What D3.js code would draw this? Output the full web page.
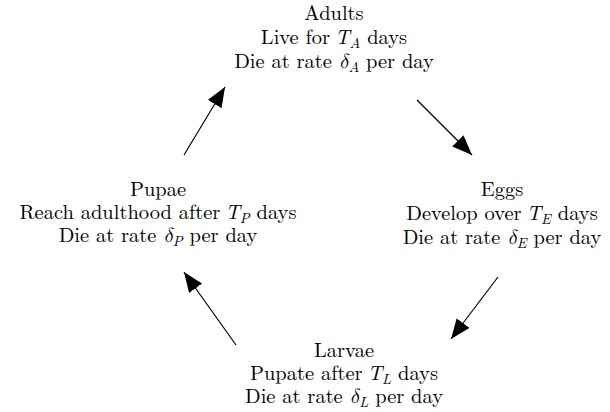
<!DOCTYPE html>
<html>
<head>
<meta charset="utf-8">
<script src="https://cdn.jsdelivr.net/npm/d3@7"></script>
<style>
  body { margin: 0; background: #fff; }
</style>
</head>
<body>
<svg id="chart" width="610" height="412"></svg>
<script>
// Stages of the life cycle, in order round the loop
const stages = ["Adults", "Eggs", "Larvae", "Pupae"];
const subscripts = ["A", "E", "L", "P"];
const durationText = ["Live for", "Develop over", "Pupate after", "Reach adulthood after"];

const FONT = "Latin Modern Roman, CMU Serif, Liberation Serif, serif";
const MATH_FONT = "Latin Modern Math, Latin Modern Roman, DejaVu Serif, serif";
const FONT_SIZE = 20.5;
const SUB_SIZE = 14.5;
const SUB_DROP = 4;

// where each block of text sits (centre x, first baseline y)
const layout = {
    Adults: { x: 334, y: 20, gap: 24 },
    Eggs:   { x: 502, y: 196, gap: 24 },
    Larvae: { x: 344, y: 357, gap: 23 },
    Pupae:  { x: 158, y: 196, gap: 23 }
};

// arrows: from tail to tip
const arrows = [
    { from: "Adults", to: "Eggs",   x1: 417, y1: 100, x2: 472, y2: 155 },
    { from: "Eggs",   to: "Larvae", x1: 498, y1: 277, x2: 451, y2: 339 },
    { from: "Larvae", to: "Pupae",  x1: 236, y1: 345, x2: 184, y2: 272 },
    { from: "Pupae",  to: "Adults", x1: 184, y1: 155, x2: 225, y2: 87 }
];

var svg = d3.select("#chart");

var nodes = stages.map(function(d, i) {
    return { name: d, sub: subscripts[i], dur: durationText[i] };
});

// Text blocks
var groups = svg.selectAll(".stage")
    .data(nodes)
    .enter()
    .append("g")
    .attr("class", "stage")
    .attr("font-family", FONT)
    .attr("font-size", FONT_SIZE)
    .attr("fill", "#000")
    .attr("transform", function(d) { return "translate(" + layout[d.name].x + "," + layout[d.name].y + ")"; });

groups.append("text")
    .attr("text-anchor", "middle")
    .attr("y", 0)
    .text(function(d) { return d.name; });

// second line: "... T_X days"
var line2 = groups.append("text")
    .attr("text-anchor", "middle")
    .attr("y", function(d) { return layout[d.name].gap; });
line2.append("tspan").text(function(d) { return d.dur + " "; });
line2.append("tspan").attr("font-style", "italic").attr("dx", -2).text("T");
line2.append("tspan").attr("font-style", "italic").attr("font-size", SUB_SIZE).attr("dy", SUB_DROP).text(function(d) { return d.sub; });
line2.append("tspan").attr("dy", -SUB_DROP).text(" days");

// third line: "Die at rate δ_X per day"
var line3 = groups.append("text")
    .attr("text-anchor", "middle")
    .attr("y", function(d) { return layout[d.name].gap * 2; });
line3.append("tspan").text("Die at rate ");
line3.append("tspan").attr("font-family", MATH_FONT).attr("font-style", "italic").text("δ");
line3.append("tspan").attr("font-style", "italic").attr("font-size", SUB_SIZE).attr("dy", SUB_DROP).text(function(d) { return d.sub; });
line3.append("tspan").attr("dy", -SUB_DROP).text(" per day");

// Arrow heads
svg.append("defs").append("marker")
    .attr("id", "head")
    .attr("viewBox", "0 0 20 16")
    .attr("refX", 20)
    .attr("refY", 8)
    .attr("markerWidth", 20)
    .attr("markerHeight", 16)
    .attr("markerUnits", "userSpaceOnUse")
    .attr("orient", "auto")
    .append("path")
    .attr("d", "M0,0 L20,8 L0,16 Z")
    .attr("fill", "#000");

svg.selectAll(".arrow")
    .data(arrows)
    .enter()
    .append("line")
    .attr("class", "arrow")
    .attr("x1", function(d) { return d.x1; })
    .attr("y1", function(d) { return d.y1; })
    .attr("x2", function(d) { return d.x2; })
    .attr("y2", function(d) { return d.y2; })
    .attr("stroke", "#000")
    .attr("stroke-width", 1.2)
    .attr("marker-end", "url(#head)");
</script>
</body>
</html>
